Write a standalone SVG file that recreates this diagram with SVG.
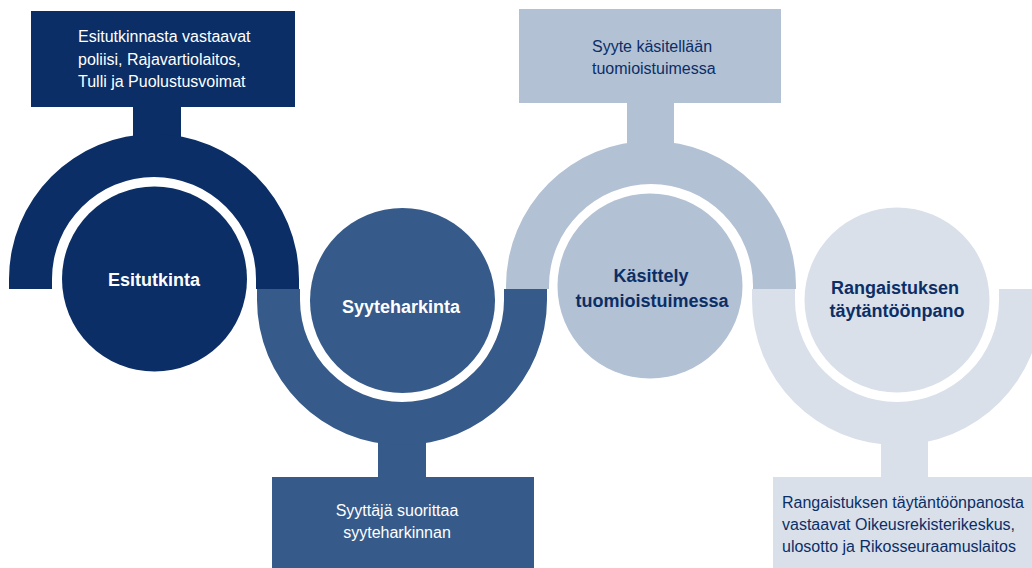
<svg xmlns="http://www.w3.org/2000/svg" width="1032" height="568" viewBox="0 0 1032 568">
<style>
.c1{fill:#0b2e66}
.c2{fill:#365a8a}
.c3{fill:#b3c1d4}
.c4{fill:#d9e0ea}
text{font-family:"Liberation Sans",Arial,sans-serif}
.lbl{font-size:18px;font-weight:bold;text-anchor:middle}
.box{font-size:16px}
.w{fill:#ffffff}
.n{fill:#0b2e66}
</style>
<rect width="1032" height="568" fill="#ffffff"/>
<g id="connectors">
<rect class="c1" x="133" y="105" width="48" height="40"/>
<rect class="c2" x="378" y="436" width="48" height="43"/>
<rect class="c3" x="627" y="101" width="47" height="46"/>
<rect class="c4" x="881" y="436" width="47" height="43"/>
</g>
<g id="stage1">
<path class="c1" d="M9,289 L9,279 A145,145 0 0 1 299,279 L299,289 L256,289 L256,279 A102,102 0 0 0 52,279 L52,289 Z"/>
<circle class="c1" cx="154.5" cy="279" r="92.5"/>
<text class="lbl w" x="154" y="286">Esitutkinta</text>
<rect class="c1" x="31" y="11" width="264" height="96"/>
<text class="box w" x="78" y="42">Esitutkinnasta vastaavat</text>
<text class="box w" x="78" y="65">poliisi, Rajavartiolaitos,</text>
<text class="box w" x="78" y="87">Tulli ja Puolustusvoimat</text>
</g>
<g id="stage2">
<path class="c2" d="M257,289 L257,300 A145,145 0 0 0 547,300 L547,289 L504,289 L504,300 A102,102 0 0 1 300,300 L300,289 Z"/>
<circle class="c2" cx="402.5" cy="300.5" r="92.5"/>
<text class="lbl w" x="401" y="313">Syyteharkinta</text>
<rect class="c2" x="272" y="477" width="262" height="91"/>
<text class="box w" x="397" y="516" text-anchor="middle">Syyttäjä suorittaa</text>
<text class="box w" x="397" y="538" text-anchor="middle">syyteharkinnan</text>
</g>
<g id="stage3">
<path class="c3" d="M506,289 L506,286 A145,145 0 0 1 796,286 L796,289 L753,289 L753,286 A102,102 0 0 0 549,286 L549,289 Z"/>
<circle class="c3" cx="650" cy="286" r="92.5"/>
<text class="lbl n" x="651" y="282">Käsittely</text>
<text class="lbl n" x="652" y="307">tuomioistuimessa</text>
<rect class="c3" x="519" y="9" width="262" height="94"/>
<text class="box n" x="592" y="52">Syyte käsitellään</text>
<text class="box n" x="592" y="74">tuomioistuimessa</text>
</g>
<g id="stage4">
<path class="c4" d="M752,289 L752,300 A145,145 0 0 0 1042,300 L1042,289 L999,289 L999,300 A102,102 0 0 1 795,300 L795,289 Z"/>
<circle class="c4" cx="897" cy="300" r="92.5"/>
<text class="lbl n" x="895" y="294">Rangaistuksen</text>
<text class="lbl n" x="897" y="317">täytäntöönpano</text>
<rect class="c4" x="773" y="477" width="265" height="91"/>
<text class="box n" x="782" y="508">Rangaistuksen täytäntöönpanosta</text>
<text class="box n" x="782" y="530">vastaavat Oikeusrekisterikeskus,</text>
<text class="box n" x="782" y="552">ulosotto ja Rikosseuraamuslaitos</text>
</g>
</svg>
